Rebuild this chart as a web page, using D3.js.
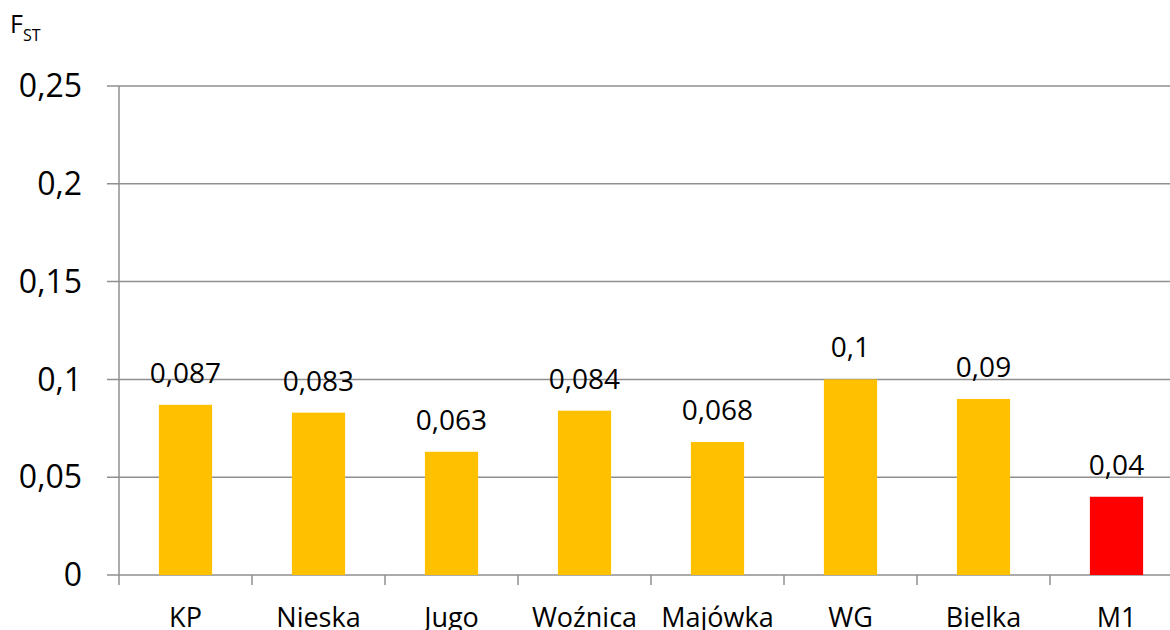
<!DOCTYPE html>
<html>
<head>
<meta charset="utf-8">
<script src="https://cdn.jsdelivr.net/npm/d3@7"></script>
<style>
  html, body { margin: 0; padding: 0; background: #fff; }
  svg { display: block; font-family: "Open Sans", "Lato", sans-serif; }
</style>
</head>
<body>
<svg id="chart" width="1170" height="630"></svg>
<script>
// Population names and their FST values
const categories = ["KP", "Nieska", "Jugo", "Woźnica", "Majówka", "WG", "Bielka", "M1"];
const values = [0.087, 0.083, 0.063, 0.084, 0.068, 0.1, 0.09, 0.04];
const valueLabels = ["0,087", "0,083", "0,063", "0,084", "0,068", "0,1", "0,09", "0,04"];
const highlighted = ["M1"];
const yTicks = [0, 0.05, 0.1, 0.15, 0.2, 0.25];
const yTickLabels = ["0", "0,05", "0,1", "0,15", "0,2", "0,25"];

const svg = d3.select("#chart");
const plotLeft = 119, plotTop = 86, plotBottom = 575;
const bandStep = 133;
const plotRight = plotLeft + bandStep * categories.length;

const x = d3.scaleBand().domain(categories).range([plotLeft, plotRight]).paddingInner(0.6).paddingOuter(0.3);
const xTicks = d3.scaleBand().domain(categories).range([plotLeft, plotRight]);
const y = d3.scaleLinear().domain([0, 0.25]).range([plotBottom, plotTop]);

const gridColor = "#8f8f8f";

// horizontal gridlines (extending left as tick marks)
svg.append("g").selectAll("line").data(yTicks).join("line")
  .attr("x1", plotLeft - 12).attr("x2", plotRight)
  .attr("y1", d => y(d)).attr("y2", d => y(d))
  .attr("stroke", gridColor).attr("stroke-width", 1.5);

// y axis line
svg.append("line").attr("x1", plotLeft).attr("x2", plotLeft)
  .attr("y1", plotTop).attr("y2", plotBottom + 10)
  .attr("stroke", gridColor).attr("stroke-width", 1.5);

// category tick marks
svg.append("g").selectAll("line").data(categories.slice(1)).join("line")
  .attr("x1", d => xTicks(d)).attr("x2", d => xTicks(d))
  .attr("y1", plotBottom).attr("y2", plotBottom + 10)
  .attr("stroke", gridColor).attr("stroke-width", 1.5);

// y tick labels
svg.append("g").selectAll("text").data(yTicks).join("text")
  .attr("x", 82).attr("y", d => y(d))
  .attr("dy", "0.35em")
  .attr("text-anchor", "end")
  .attr("font-size", 32)
  .attr("fill", "#000")
  .text((d, i) => yTickLabels[i]);

// bars
svg.append("g").selectAll("rect").data(categories).join("rect")
  .attr("x", d => x(d))
  .attr("width", x.bandwidth())
  .attr("y", (d, i) => y(values[i]))
  .attr("height", (d, i) => y(0) - y(values[i]))
  .attr("fill", d => highlighted.includes(d) ? "#FF0000" : "#FFC000");

// value labels above bars
svg.append("g").selectAll("text").data(categories).join("text")
  .attr("x", d => x(d) + x.bandwidth() / 2)
  .attr("y", (d, i) => y(values[i]) - 22)
  .attr("text-anchor", "middle")
  .attr("font-size", 28)
  .attr("fill", "#000")
  .text((d, i) => valueLabels[i]);

// category labels
svg.append("g").selectAll("text").data(categories).join("text")
  .attr("x", d => xTicks(d) + xTicks.bandwidth() / 2)
  .attr("y", 627)
  .attr("text-anchor", "middle")
  .attr("font-size", 27)
  .attr("fill", "#000")
  .text(d => d);

// axis title F with subscript ST
const title = svg.append("text").attr("x", 10).attr("y", 33).attr("fill", "#000");
title.append("tspan").attr("font-size", 25).text("F");
title.append("tspan").attr("font-size", 16).attr("dy", 8).text("ST");
</script>
</body>
</html>
